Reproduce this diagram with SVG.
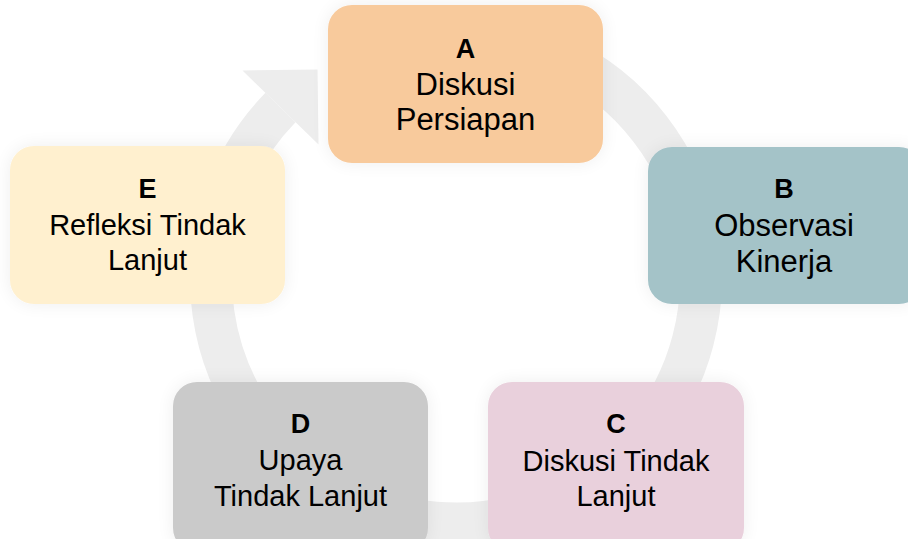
<svg xmlns="http://www.w3.org/2000/svg" width="908" height="539" viewBox="0 0 908 539">
  <style>
    text { font-family: "Liberation Sans", Arial, sans-serif; fill: #000; text-anchor: middle; }
    .key { font-weight: bold; font-size: 27px; }
    .big { font-size: 31px; }
    .mid { font-size: 29px; }
    .box { filter: url(#soft); }
  </style>
  <defs>
    <filter id="soft" x="-20%" y="-20%" width="140%" height="140%">
      <feGaussianBlur in="SourceAlpha" stdDeviation="9"/>
      <feComponentTransfer><feFuncA type="linear" slope="0.07"/></feComponentTransfer>
      <feMerge><feMergeNode/><feMergeNode in="SourceGraphic"/></feMerge>
    </filter>
  </defs>
  <rect width="908" height="539" fill="#ffffff"/>

  <g id="connectors">
    <path d="M 456 33.5 A 245 245 0 1 1 280.5 107.5" fill="none" stroke="#ededed" stroke-width="42"/>
    <polygon points="242.5,70.5 317.5,69.5 318.5,144.5" fill="#ededed"/>
  </g>

  <g id="node-A">
    <rect class="box" x="328" y="5" width="275" height="158" rx="24" fill="#f8ca9c"/>
    <text class="key" x="465.5" y="58">A</text>
    <text class="big" x="465.5" y="95">Diskusi</text>
    <text class="big" x="465.5" y="130">Persiapan</text>
  </g>

  <g id="node-B">
    <rect class="box" x="648" y="147" width="275" height="157" rx="24" fill="#a4c3c8"/>
    <text class="key" x="784" y="198">B</text>
    <text class="big" x="784" y="236">Observasi</text>
    <text class="big" x="784" y="272">Kinerja</text>
  </g>

  <g id="node-C">
    <rect class="box" x="488" y="382" width="256" height="170" rx="24" fill="#e9d0dc"/>
    <text class="key" x="616" y="433">C</text>
    <text class="mid" x="616" y="471">Diskusi Tindak</text>
    <text class="mid" x="616" y="506">Lanjut</text>
  </g>

  <g id="node-D">
    <rect class="box" x="173" y="382" width="255" height="170" rx="24" fill="#cacaca"/>
    <text class="key" x="300.5" y="433">D</text>
    <text class="mid" x="300.5" y="470">Upaya</text>
    <text class="mid" x="300.5" y="506">Tindak Lanjut</text>
  </g>

  <g id="node-E">
    <rect class="box" x="10" y="146" width="275" height="158" rx="24" fill="#fff0cf"/>
    <text class="key" x="147.5" y="198">E</text>
    <text class="mid" x="147.5" y="235">Refleksi Tindak</text>
    <text class="mid" x="147.5" y="270">Lanjut</text>
  </g>
</svg>
